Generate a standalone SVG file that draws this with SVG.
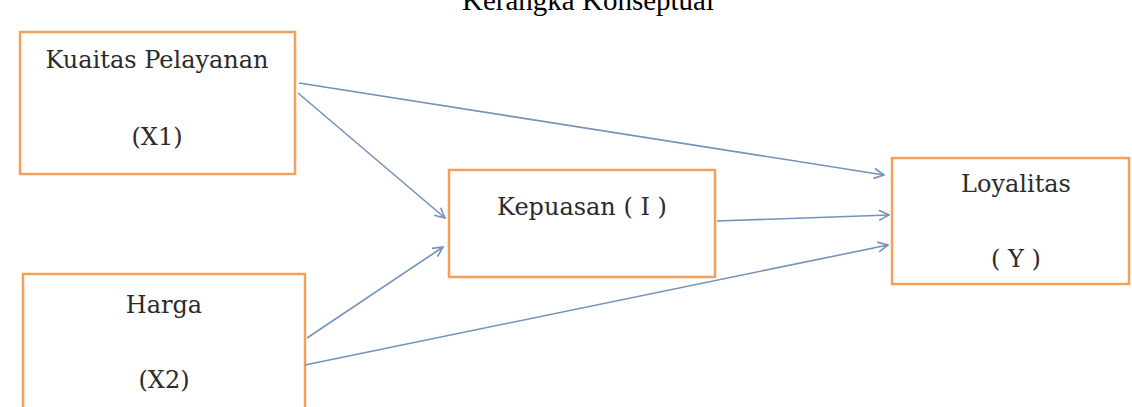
<svg xmlns="http://www.w3.org/2000/svg" width="1132" height="407" viewBox="0 0 1132 407">
<style>
.box{fill:#ffffff;stroke:#f2a05a;stroke-width:2.5}
.lbl{font-family:"DejaVu Serif",serif;font-size:24px;fill:#2b2b2b;text-anchor:middle}
.title{font-family:"Liberation Serif",serif;font-size:29px;fill:#000000;text-anchor:middle}
.conn{stroke:#7592bb;stroke-width:1.6;fill:none;marker-end:url(#arr)}
</style>
<defs>
<marker id="arr" viewBox="0 0 12 12" refX="11" refY="6" markerWidth="12" markerHeight="12" markerUnits="userSpaceOnUse" orient="auto">
<path d="M1,1 L11,6 L1,11" fill="none" stroke="#7592bb" stroke-width="1.6"/>
</marker>
</defs>
<rect width="1132" height="407" fill="#ffffff"/>
<text class="title" x="588" y="10">Kerangka Konseptual</text>
<g id="node-x1">
<rect class="box" x="20" y="32" width="275" height="142"/>
<text class="lbl" x="157" y="68">Kuaitas Pelayanan</text>
<text class="lbl" x="157" y="145">(X1)</text>
</g>
<g id="node-x2">
<rect class="box" x="23" y="274" width="282" height="150"/>
<text class="lbl" x="164" y="313">Harga</text>
<text class="lbl" x="164" y="388">(X2)</text>
</g>
<g id="node-i">
<rect class="box" x="449" y="170" width="266" height="107"/>
<text class="lbl" x="582" y="215">Kepuasan ( I )</text>
</g>
<g id="node-y">
<rect class="box" x="892" y="158" width="237" height="126"/>
<text class="lbl" x="1016" y="192">Loyalitas</text>
<text class="lbl" x="1016" y="267">( Y )</text>
</g>
<g id="connectors">
<line class="conn" x1="299" y1="83" x2="884" y2="175"/>
<line class="conn" x1="298" y1="93" x2="445" y2="218"/>
<line class="conn" x1="307" y1="338" x2="443" y2="247"/>
<line class="conn" x1="305" y1="365" x2="888" y2="245"/>
<line class="conn" x1="717" y1="221" x2="889" y2="215"/>
</g>
</svg>
